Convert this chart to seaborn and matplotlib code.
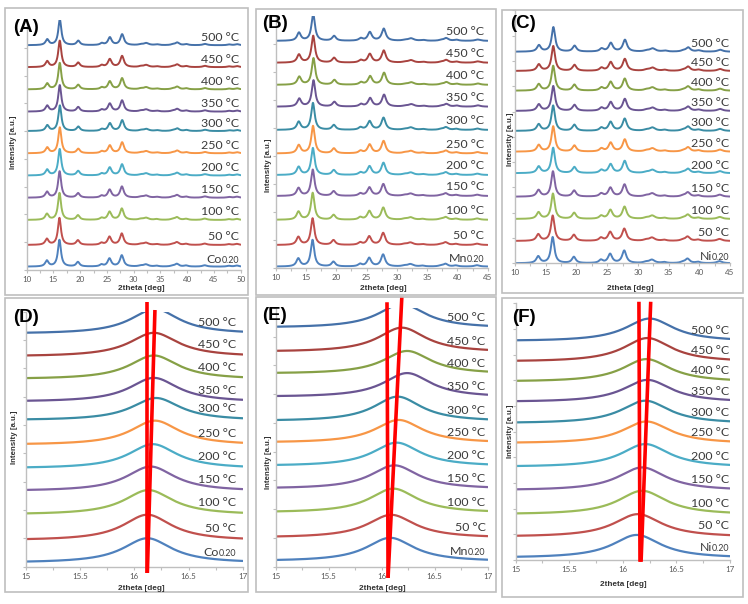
import numpy as np
import pandas as pd
import matplotlib
matplotlib.use("Agg")
import matplotlib.pyplot as plt
import seaborn as sns
from matplotlib import font_manager
from matplotlib.patches import Rectangle
from matplotlib.ticker import MultipleLocator, FuncFormatter, NullFormatter

# ============================================================
# 0. settings
# ============================================================
W, H, DPI = 748, 604, 100
sns.set_theme(style="white")
installed = {f.name for f in font_manager.fontManager.ttflist}
base_font = next(f for f in ["Liberation Sans Narrow", "Lato", "Open Sans", "DejaVu Sans"] if f in installed)
narrow = base_font == "Liberation Sans Narrow"
bold_font = "Liberation Sans"
plt.rcParams["font.family"] = [base_font, "DejaVu Sans"]
plt.rcParams["axes.unicode_minus"] = False

# ============================================================
# 1. data
# ============================================================
temp_labels = ["50 °C", "100 °C", "150 °C", "200 °C", "250 °C",
               "300 °C", "350 °C", "400 °C", "450 °C", "500 °C"]
series_colors = ["#4F81BD", "#C0504D", "#9BBB59", "#8064A2", "#4BACC6", "#F79646",
                 "#3A8CA4", "#6A5592", "#86A046", "#A8433F", "#4571A9"]

# position of the main reflection per curve (bottom -> top), from the zoomed panels
main_Co = [16.12, 16.12, 16.13, 16.15, 16.17, 16.19, 16.20, 16.18, 16.18, 16.18, 16.19]
main_Mn = [16.08, 16.09, 16.11, 16.12, 16.14, 16.16, 16.15, 16.24, 16.24, 16.19, 16.19]
main_Ni = [16.13, 16.14, 16.18, 16.18, 16.21, 16.22, 16.21, 16.23, 16.22, 16.23, 16.25]

# peak list of the full pattern (main peak at 16.15 = reference)
pat_pos = [13.8, 16.15, 19.6, 24.0, 25.5, 27.8, 31.3, 32.3, 34.3, 37.3, 38.1, 39.8, 43.3, 47.8, 49.3]
pat_fwhm = [0.6, 0.55, 0.6, 0.6, 0.65, 0.65, 0.7, 0.9, 0.7, 0.7, 0.7, 0.7, 0.8, 0.7, 0.7]
rel_Co = [0.22, 1.0, 0.17, 0.07, 0.30, 0.42, 0.03, 0.08, 0.03, 0.03, 0.10, 0.04, 0.05, 0.03, 0.04]
rel_Mn = [0.30, 1.0, 0.18, 0.09, 0.32, 0.45, 0.03, 0.09, 0.03, 0.03, 0.10, 0.04, 0.05, 0.03, 0.03]
rel_Ni = [0.26, 1.0, 0.24, 0.12, 0.35, 0.48, 0.04, 0.13, 0.04, 0.04, 0.17, 0.05, 0.08, 0.03, 0.03]

# baseline and main peak height of each curve, per panel (1 = one y tick)
off_A = [0.12, 0.90, 1.80, 2.60, 3.40, 4.20, 5.00, 5.70, 6.50, 7.30, 8.09]
hgt_A = [0.96, 0.97, 0.97, 0.95, 0.95, 0.93, 0.92, 0.95, 0.95, 0.95, 0.93]
off_B = [0.06, 0.83, 1.73, 2.58, 3.33, 4.10, 4.94, 5.77, 6.55, 7.34, 8.12]
hgt_B = [0.95, 0.95, 0.96, 0.94, 0.96, 0.98, 0.96, 0.94, 0.95, 0.96, 0.96]
off_C = [0.00, 0.88, 1.75, 2.63, 3.56, 4.41, 5.23, 6.02, 6.82, 7.60, 8.36]
hgt_C = [1.03, 1.00, 1.00, 1.00, 1.00, 1.00, 1.00, 0.98, 0.98, 0.98, 0.97]
off_D = [0.12, 0.91, 1.82, 2.65, 3.45, 4.28, 5.15, 5.80, 6.60, 7.40, 8.20]
hgt_D = [0.88, 0.92, 0.88, 0.88, 0.87, 0.87, 0.80, 0.86, 0.85, 0.85, 0.89]
off_E = [0.17, 0.99, 1.86, 2.69, 3.48, 4.29, 5.04, 5.88, 6.69, 7.45, 8.29]
hgt_E = [0.83, 0.81, 0.85, 0.83, 0.83, 0.81, 0.87, 0.85, 0.81, 0.86, 0.84]
off_F = [0.06, 0.88, 1.75, 2.69, 3.60, 4.52, 5.30, 6.13, 6.92, 7.70, 8.50]
hgt_F = [0.91, 0.90, 0.94, 0.91, 0.91, 0.87, 0.90, 0.88, 0.90, 0.94, 0.90]

# hand drawn red guide lines (2theta at top / bottom, intensity at top / bottom)
red_D = {"x_top": [16.12, 16.19], "x_bot": [16.12, 16.12], "y_top": [9.34, 9.06], "y_bot": [-0.22, -0.22]}
red_E = {"x_top": [16.05, 16.19], "x_bot": [16.06, 16.06], "y_top": [9.20, 9.39], "y_bot": [-0.39, -0.39]}
red_F = {"x_top": [16.15, 16.26], "x_bot": [16.16, 16.17], "y_top": [10.06, 10.06], "y_bot": [-0.07, -0.07]}


def pattern(x, shift, rel, wscale=1.0):
    y = np.zeros_like(x)
    for c, r, w in zip(pat_pos, rel, pat_fwhm):
        y += r / (1 + ((x - (c + shift)) / (w * wscale / 2)) ** 2)
    return y


# ============================================================
# 2. panels
# ============================================================
panels = [
    dict(tag="(A)", el="Co", main=main_Co, rel=rel_Co, off=off_A, hgt=hgt_A, xlim=(10, 50), ylim=(0, 9),
         box=(26.7, 240.7, 20, 270), frame=(5, 248, 8, 295), step=5, minor=2.5, lab_x=49.7, lab_dy=0.29,
         tag_xy=(13, 27), xl=(141, 289), yl=(14, 142), lw=1.4, ws=1.25, red=None),
    dict(tag="(B)", el="Mn", main=main_Mn, rel=rel_Mn, off=off_B, hgt=hgt_B, xlim=(10, 45), ylim=(0, 9),
         box=(275.7, 487.7, 16.3, 268.3), frame=(256, 496, 9, 295), step=5, minor=2.5, lab_x=44.4, lab_dy=0.33,
         tag_xy=(262, 23), xl=(383, 288), yl=(268, 165), lw=1.4, ws=1.25, red=None),
    dict(tag="(C)", el="Ni", main=main_Ni, rel=rel_Ni, off=off_C, hgt=hgt_C, xlim=(10, 45), ylim=(0, 10),
         box=(515, 730, 10.3, 263.3), frame=(502, 743, 10, 293), step=5, minor=2.5, lab_x=44.9, lab_dy=0.32,
         tag_xy=(510, 24), xl=(630, 288), yl=(510, 139), lw=1.4, ws=1.25, red=None),
    dict(tag="(D)", el="Co", main=main_Co, rel=rel_Co, off=off_D, hgt=hgt_D, xlim=(15, 17), ylim=(0, 9),
         box=(26, 242.7, 311.7, 566.7), frame=(5, 248, 298, 592), step=0.5, minor=0.25, lab_x=16.94, lab_dy=0.43,
         tag_xy=(13, 318), xl=(141, 589), yl=(15, 437), lw=1.6, ws=1.0, red=red_D),
    dict(tag="(E)", el="Mn", main=main_Mn, rel=rel_Mn, off=off_E, hgt=hgt_E, xlim=(15, 17), ylim=(0, 9),
         box=(275.7, 487.7, 308, 566.7), frame=(256, 496, 297, 592), step=0.5, minor=0.25, lab_x=16.98, lab_dy=0.39,
         tag_xy=(262, 316), xl=(382, 589), yl=(268, 462), lw=1.6, ws=1.0, red=red_E),
    dict(tag="(F)", el="Ni", main=main_Ni, rel=rel_Ni, off=off_F, hgt=hgt_F, xlim=(15, 17), ylim=(0, 10),
         box=(515.7, 730, 303.3, 560), frame=(502, 743, 298, 597), step=0.5, minor=0.25, lab_x=16.99, lab_dy=0.45,
         tag_xy=(512, 317), xl=(623, 585), yl=(510, 431), lw=1.6, ws=1.0, red=red_F),
]

fig = plt.figure(figsize=(W / DPI, H / DPI), dpi=DPI)
fig.patch.set_facecolor("white")

tick_col = "#595959"
axis_col = "#BFBFBF"
lab_size = 9.5 if narrow else 8.9
tick_size = 6.5 if narrow else 5.8


def fit_text(x, y, s, target_px, **kw):
    # axis titles: scale the font so the text is as long as in the picture
    t = fig.text(x, y, s, fontsize=6, **kw)
    fig.canvas.draw()
    bb = t.get_window_extent(renderer=fig.canvas.get_renderer())
    length = bb.height if kw.get("rotation") == 90 else bb.width
    t.set_fontsize(6 * target_px / length)
    return t


for p in panels:
    # grey frame around each chart
    fx0, fx1, fy0, fy1 = p["frame"]
    fig.add_artist(Rectangle((fx0 / W, 1 - fy1 / H), (fx1 - fx0) / W, (fy1 - fy0) / H,
                             transform=fig.transFigure, fill=False, edgecolor=axis_col, lw=1.2))

    x0, x1, yt, yb = p["box"]
    ax = fig.add_axes([x0 / W, 1 - yb / H, (x1 - x0) / W, (yb - yt) / H])
    ax.set_facecolor("none")

    names = [p["el"] + "0.20"] + temp_labels
    x = np.linspace(p["xlim"][0], p["xlim"][1], 1600)
    frames = []
    for i, name in enumerate(names):
        shift = p["main"][i] - 16.15
        y = p["off"][i] + p["hgt"][i] * pattern(x, shift, p["rel"], p["ws"])
        frames.append(pd.DataFrame({"2theta": x, "I": y, "curve": name}))
    df = pd.concat(frames, ignore_index=True)

    sns.lineplot(data=df, x="2theta", y="I", hue="curve", hue_order=names, palette=series_colors,
                 estimator=None, sort=False, legend=False, lw=p["lw"], ax=ax)

    ax.set_xlim(*p["xlim"])
    ax.set_ylim(*p["ylim"])
    ax.set_xlabel("")
    ax.set_ylabel("")
    for s in ["top", "right"]:
        ax.spines[s].set_visible(False)
    for s in ["left", "bottom"]:
        ax.spines[s].set_color(axis_col)
        ax.spines[s].set_linewidth(1.0)
    ax.xaxis.set_major_locator(MultipleLocator(p["step"]))
    ax.xaxis.set_minor_locator(MultipleLocator(p["minor"]))
    ax.xaxis.set_major_formatter(FuncFormatter(lambda v, _: f"{v:g}"))
    ax.yaxis.set_major_locator(MultipleLocator(1))
    ax.yaxis.set_major_formatter(NullFormatter())
    ax.tick_params(axis="both", which="both", direction="out", length=2.5, width=0.8,
                   color=axis_col, labelsize=tick_size, labelcolor=tick_col, pad=1.8,
                   bottom=True, left=True)

    # temperature labels
    for i, name in enumerate(temp_labels, start=1):
        ax.text(p["lab_x"], p["off"][i] + p["lab_dy"], name, ha="right", va="center",
                fontsize=lab_size, color="#3A3A3A")
    # sample label with small "0.20"
    yb_lab = p["off"][0] + p["lab_dy"] - 0.17
    t_sub = ax.text(p["lab_x"], yb_lab, "0.20", ha="right", va="baseline", fontsize=lab_size * 0.72,
                    color="#3A3A3A")
    fig.canvas.draw()
    wsub = t_sub.get_window_extent(renderer=fig.canvas.get_renderer()).width
    ax.annotate(p["el"], xy=(p["lab_x"], yb_lab), xytext=(-(wsub - 0.5) * 72 / DPI, 0),
                textcoords="offset points", ha="right", va="baseline", fontsize=lab_size, color="#3A3A3A")

    # red guide lines
    if p["red"] is not None:
        r = p["red"]
        for k in range(2):
            ax.plot([r["x_top"][k], r["x_bot"][k]], [r["y_top"][k], r["y_bot"][k]],
                    color="#FF0000", lw=2.6, solid_capstyle="butt", clip_on=False, zorder=5)

    # panel tag and axis titles
    fig.text(p["tag_xy"][0] / W, 1 - p["tag_xy"][1] / H, p["tag"], ha="left", va="center",
             fontsize=13.5, fontweight="bold", family=["Liberation Sans", "DejaVu Sans"], color="black")
    fit_text(p["xl"][0] / W, 1 - p["xl"][1] / H, "2theta [deg]", 47, ha="center", va="center",
             fontweight="bold", family=[bold_font, "DejaVu Sans"], color="#333333")
    fit_text(p["yl"][0] / W, 1 - p["yl"][1] / H, "Intensity [a.u.]", 55, ha="center", va="center",
             rotation=90, fontweight="bold", family=[bold_font, "DejaVu Sans"], color="#333333")

plt.savefig("out.png", dpi=DPI)
